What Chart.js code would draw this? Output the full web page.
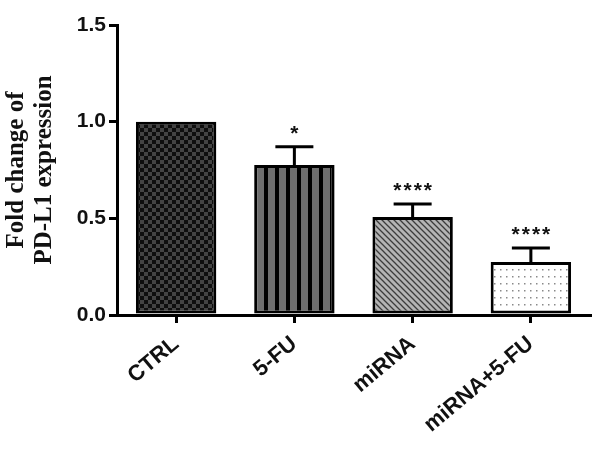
<!DOCTYPE html>
<html>
<head>
<meta charset="utf-8">
<script src="https://cdn.jsdelivr.net/npm/chart.js@4.4.1/dist/chart.umd.min.js"></script>
<style>
  html, body { margin: 0; padding: 0; background: #fff; }
  #wrap { width: 606px; height: 459px; }
</style>
</head>
<body>
<div id="wrap"><canvas id="grafico"></canvas></div>
<script>
const grupos = ['CTRL', '5-FU', 'miRNA', 'miRNA+5-FU'];
const valores = [1.0, 0.776, 0.507, 0.274];
const errores = [0, 0.094, 0.067, 0.073];
const signif = ['', '*', '****', '****'];
const yTicks = [0, 0.5, 1.0, 1.5];

// patrones de relleno
function patron(size, dibujar) {
    const c = document.createElement('canvas');
    c.width = size[0];
    c.height = size[1];
    dibujar(c.getContext('2d'), size[0], size[1]);
    return c.getContext('2d').createPattern(c, 'repeat');
}

const pCuadros = patron([8, 8], (g, w, h) => {
    g.fillStyle = '#0e0e0e';
    g.fillRect(0, 0, w, h);
    g.fillStyle = '#434343';
    g.fillRect(0, 0, 4, 4);
    g.fillRect(4, 4, 4, 4);
});

const pRayas = patron([11, 4], (g, w, h) => {
    g.fillStyle = '#6e6e6e';
    g.fillRect(0, 0, w, h);
    g.fillStyle = '#000';
    g.fillRect(0, 0, 4, h);
});

const pDiagonal = patron([6, 6], (g, w, h) => {
    g.fillStyle = '#b4b4b4';
    g.fillRect(0, 0, w, h);
    g.strokeStyle = '#3c3c3c';
    g.lineWidth = 1.3;
    g.beginPath();
    g.moveTo(-1, -1); g.lineTo(w + 1, h + 1);
    g.moveTo(-1, h - 1); g.lineTo(1, h + 1);
    g.moveTo(w - 1, -1); g.lineTo(w + 1, 1);
    g.stroke();
});

const pPuntos = patron([6, 7], (g, w, h) => {
    g.fillStyle = '#fff';
    g.fillRect(0, 0, w, h);
    g.fillStyle = '#8a8a8a';
    g.fillRect(2, 3, 1.5, 1.5);
});

const erroresPlugin = {
    id: 'errores',
    afterDatasetsDraw(chart) {
        const ctx = chart.ctx;
        const meta = chart.getDatasetMeta(0);
        const y = chart.scales.y;
        ctx.save();
        ctx.strokeStyle = '#000';
        ctx.lineWidth = 3;
        meta.data.forEach((bar, i) => {
            const top = y.getPixelForValue(valores[i]);
            const tope = y.getPixelForValue(valores[i] + errores[i]);
            if (errores[i] > 0) {
                ctx.beginPath();
                ctx.moveTo(bar.x, top);
                ctx.lineTo(bar.x, tope);
                ctx.moveTo(bar.x - 19, tope);
                ctx.lineTo(bar.x + 19, tope);
                ctx.stroke();
            }
            if (signif[i]) {
                ctx.fillStyle = '#111';
                ctx.font = 'bold 21px "Liberation Sans", Arial, sans-serif';
                ctx.textAlign = 'center';
                ctx.textBaseline = 'middle';
                ctx.letterSpacing = '2px';
                ctx.fillText(signif[i], bar.x + 1, tope - 13);
            }
        });
        ctx.restore();
    }
};

new Chart(document.getElementById('grafico'), {
    type: 'bar',
    data: {
        labels: grupos,
        datasets: [{
            data: valores,
            backgroundColor: [pCuadros, pRayas, pDiagonal, pPuntos],
            borderColor: '#000',
            borderWidth: 3,
            borderSkipped: false,
            categoryPercentage: 1,
            barPercentage: 0.68
        }]
    },
    options: {
        responsive: true,
        maintainAspectRatio: false,
        animation: false,
        layout: { padding: { top: 25, right: 16, left: 0, bottom: 0 } },
        plugins: {
            legend: { display: false },
            tooltip: { enabled: false }
        },
        scales: {
            x: {
                afterFit: s => { s.height = 144; },
                grid: {
                    offset: false,
                    drawOnChartArea: false,
                    color: '#000',
                    lineWidth: 3,
                    tickLength: 8
                },
                border: { color: '#000', width: 3 },
                ticks: {
                    color: '#111',
                    minRotation: 40,
                    maxRotation: 40,
                    padding: 8,
                    font: { family: '"Liberation Sans", Arial, sans-serif', size: 22, weight: 'bold' }
                }
            },
            y: {
                min: 0,
                max: 1.5,
                afterFit: s => { s.width = 117; },
                afterBuildTicks: s => { s.ticks = yTicks.map(v => ({ value: v })); },
                grid: {
                    drawOnChartArea: false,
                    color: '#000',
                    lineWidth: 3,
                    tickLength: 8
                },
                border: { color: '#000', width: 3 },
                ticks: {
                    color: '#111',
                    padding: 3,
                    callback: v => v.toFixed(1),
                    font: { family: '"Liberation Sans", Arial, sans-serif', size: 21, weight: 'bold' }
                },
                title: {
                    display: true,
                    text: ['Fold change of', 'PD-L1 expression'],
                    color: '#111',
                    padding: { top: 3, bottom: 0 },
                    font: { family: '"Liberation Serif", "Times New Roman", serif', size: 25, weight: 'bold', lineHeight: 1.1 }
                }
            }
        }
    },
    plugins: [erroresPlugin]
});
</script>
</body>
</html>
